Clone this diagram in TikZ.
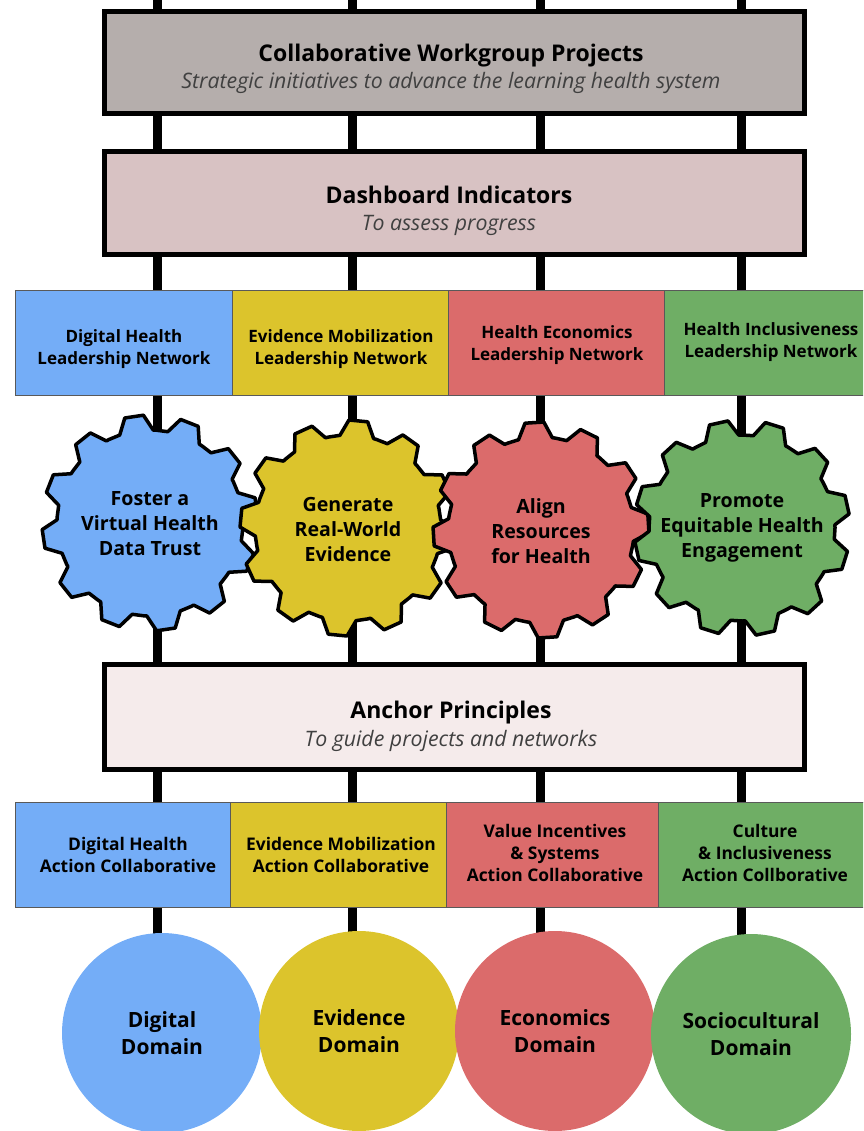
\documentclass[tikz,border=0pt]{standalone}
\usepackage{fontspec}
\setmainfont{Open Sans}
\usetikzlibrary{backgrounds}

\definecolor{cblue}{HTML}{74ADF7}
\definecolor{cyellow}{HTML}{DCC42C}
\definecolor{cred}{HTML}{DB6B6B}
\definecolor{cgreen}{HTML}{6FAE65}
\definecolor{topgray}{HTML}{B5AEAC}
\definecolor{dashpink}{HTML}{D8C2C3}
\definecolor{anchorpink}{HTML}{F5EBEB}

% gear outline: centre x, centre y, phase angle, fill colour
\newcommand\gearshape[4]{%
  \filldraw[gearline, fill=#4] ([shift={(#1,#2)}]#3:93)
    \foreach \k in {0,...,11}{
      -- ([shift={(#1,#2)}]#3+\k*30+7:93)
      -- ([shift={(#1,#2)}]#3+\k*30+12.5:108)
      -- ([shift={(#1,#2)}]#3+\k*30+22.5:108)
      -- ([shift={(#1,#2)}]#3+\k*30+28:93)
      -- ([shift={(#1,#2)}]#3+\k*30+30:93)
    } -- cycle;
}

\begin{document}
\begin{tikzpicture}[x=1pt,y=-1pt,
  rail/.style={line width=9pt},
  bigbox/.style={draw=black, line width=5pt, minimum width=700pt, inner sep=0pt},
  cell/.style={draw=black!65, line width=0.8pt, inner sep=0pt, minimum height=105pt},
  gearline/.style={draw=black, line width=3.5pt, line join=round},
  hd/.style={font=\fontsize{23}{26}\selectfont\bfseries},
  sub/.style={font=\fontsize{21.3}{24}\selectfont\itshape, text=black!75},
  cellt/.style={font=\fontsize{17}{22}\selectfont\bfseries, align=center},
  actt/.style={font=\fontsize{17.4}{22}\selectfont\bfseries, align=center},
  geart/.style={font=\fontsize{19.6}{25}\selectfont\bfseries, align=center},
  dom/.style={circle, minimum size=200pt, inner sep=0pt,
              font=\fontsize{21}{27}\selectfont\bfseries, align=center},
]
\useasboundingbox (0,0) rectangle (863,1131);
\clip (0,0) rectangle (863,1131);

% rail tops
\coordinate (r1) at (157,0);
\coordinate (r2) at (352,0);
\coordinate (r3) at (540,0);
\coordinate (r4) at (741,0);

% top framework boxes
\node[bigbox, fill=topgray, minimum height=102pt] (cwp) at (454,63) {};
\node[hd] (cwpH) at (451,56) {Collaborative Workgroup Projects};
\node[sub] (cwpS) at (451,83) {Strategic initiatives to advance the learning health system};

\node[bigbox, fill=dashpink, minimum height=103pt] (dash) at (454,203.5) {};
\node[hd] (dashH) at (449,195) {Dashboard Indicators};
\node[sub] (dashS) at (449,225) {To assess progress};

% leadership networks
\node[cell, fill=cblue,   minimum width=217pt] (ln1) at (123.5,342.5) {};
\node[cell, fill=cyellow, minimum width=216pt] (ln2) at (340,342.5) {};
\node[cell, fill=cred,    minimum width=216pt] (ln3) at (556,342.5) {};
\node[cell, fill=cgreen,  minimum width=216pt] (ln4) at (772,342.5) {};
\node[cellt] (lt1) at (124,349) {Digital Health\\Leadership Network};
\node[cellt] (lt2) at (341,349) {Evidence Mobilization\\Leadership Network};
\node[cellt] (lt3) at (557,345) {Health Economics\\Leadership Network};
\node[cellt] (lt4) at (771,342) {Health Inclusiveness\\Leadership Network};

% gears
\gearshape{150}{523}{4}{cblue}
\node[geart] (g1) at (150,524) {Foster a\\Virtual Health\\Data Trust};
\gearshape{348}{528}{18}{cyellow}
\node[geart] (g2) at (348,529) {Generate\\Real-World\\Evidence};
\gearshape{541}{530}{9}{cred}
\node[geart] (g3) at (541,531) {Align\\Resources\\for Health};
\gearshape{742}{528}{0}{cgreen}
\node[geart] (g4) at (742,528) {Promote\\Equitable Health\\Engagement};

% anchor principles
\node[bigbox, fill=anchorpink, minimum height=105pt] (anc) at (454,716.5) {};
\node[hd] (ancH) at (451,713) {Anchor Principles};
\node[sub] (ancS) at (451,741) {To guide projects and networks};

% action collaboratives
\node[cell, fill=cblue,   minimum width=215pt] (ac1) at (122.5,854.5) {};
\node[cell, fill=cyellow, minimum width=216pt] (ac2) at (338,854.5) {};
\node[cell, fill=cred,    minimum width=212pt] (ac3) at (552,854.5) {};
\node[cell, fill=cgreen,  minimum width=217pt] (ac4) at (766.5,854.5) {};
\node[actt] (at1) at (128,855) {Digital Health\\Action Collaborative};
\node[actt] (at2) at (341,855) {Evidence Mobilization\\Action Collaborative};
\node[actt] (at3) at (555,853) {Value Incentives\\\& Systems\\Action Collaborative};
\node[actt] (at4) at (765,853) {Culture\\\& Inclusiveness\\Action Collborative};

% domains
\node[dom, fill=cblue]   (d1) at (162,1033) {Digital\\Domain};
\node[dom, fill=cyellow] (d2) at (359,1031) {Evidence\\Domain};
\node[dom, fill=cred]    (d3) at (555,1031) {Economics\\Domain};
\node[dom, fill=cgreen]  (d4) at (751,1034) {Sociocultural\\Domain};

% rails behind everything
\begin{scope}[on background layer]
  \draw[rail] (r1) -- (r1 |- d1.center);
  \draw[rail] (r2) -- (r2 |- d2.center);
  \draw[rail] (r3) -- (r3 |- d3.center);
  \draw[rail] (r4) -- (r4 |- d4.center);
\end{scope}
\end{tikzpicture}
\end{document}
